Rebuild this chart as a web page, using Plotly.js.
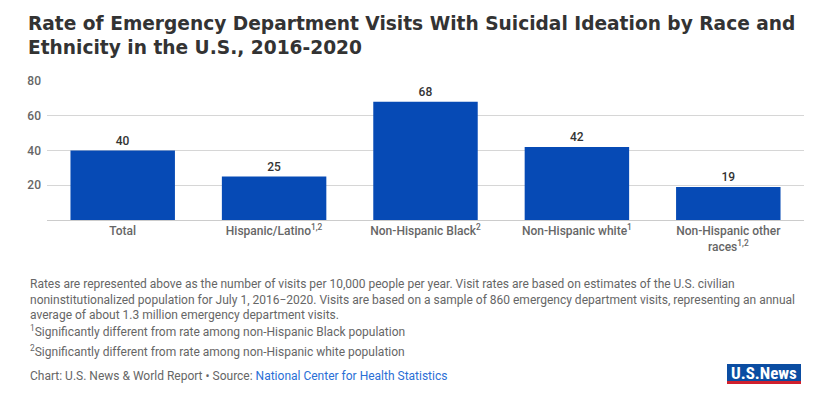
<!DOCTYPE html>
<html>
<head>
<meta charset="utf-8">
<script src="https://cdn.plot.ly/plotly-3.0.1.min.js"></script>
<style>html,body{margin:0;padding:0;background:#fff;}#chart{width:840px;height:397px;}</style>
</head>
<body>
<div id="chart"></div>
<script>
const categories = ["Total", "Hispanic/Latino<sup>1,2</sup>", "Non-Hispanic Black<sup>2</sup>", "Non-Hispanic white<sup>1</sup>", "Non-Hispanic other<br>races<sup>1,2</sup>"];
const rates = [40, 25, 68, 42, 19];
const yTicks = [20, 40, 60, 80];

const W = 840, H = 397;
const L = 47, R = 804, T = 81, B = 220;
const px = x => (x - L) / (R - L);
const py = y => (B - y) / (B - T);

const noteFont = {family: "Roboto, sans-serif", size: 12, color: "#666"};

const data = [{
  type: "bar",
  x: categories,
  y: rates,
  marker: {color: "#064ab5"},
  text: rates.map(String),
  textposition: "outside",
  textfont: {family: "Roboto, sans-serif", size: 12, color: "#333", weight: 500},
  cliponaxis: false,
  hoverinfo: "none"
}];

const ann = (x, y, text, extra) => Object.assign({
  xref: "paper", yref: "paper", x: px(x), y: py(y), text: text,
  showarrow: false, xanchor: "left", yanchor: "middle", align: "left", font: noteFont
}, extra || {});

const layout = {
  width: W, height: H,
  margin: {l: L, r: W - R, t: T, b: H - B, pad: 0},
  paper_bgcolor: "#fff", plot_bgcolor: "#fff",
  bargap: 0.31,
  showlegend: false,
  xaxis: {
    tickfont: {family: "Roboto, sans-serif", size: 12, color: "#666", weight: 500},
    showline: true, linecolor: "#ccc", linewidth: 1,
    ticks: "", showgrid: false, fixedrange: true
  },
  yaxis: {
    range: [0, 80], tickvals: yTicks,
    tickfont: {family: "Roboto, sans-serif", size: 12, color: "#666", weight: 500},
    gridcolor: "#d6d6d6", gridwidth: 1, zeroline: false,
    ticks: "", ticklabelstandoff: 5, fixedrange: true
  },
  annotations: [
    ann(26, 11, "Rate of Emergency Department Visits With Suicidal Ideation by Race and<br>Ethnicity in the U.S., 2016-2020",
      {yanchor: "top", font: {family: "'DejaVu Sans', sans-serif", size: 18.6, color: "#333", weight: 700}}),
    ann(28, 299, "Rates are represented above as the number of visits per 10,000 people per year. Visit rates are based on estimates of the U.S. civilian<br>noninstitutionalized population for July 1, 2016\u22122020. Visits are based on a sample of 860 emergency department visits, representing an annual<br>average of about 1.3 million emergency department visits."),
    ann(28, 331, "<sup>1</sup>Significantly different from rate among non-Hispanic Black population"),
    ann(28, 351, "<sup>2</sup>Significantly different from rate among non-Hispanic white population"),
    ann(28, 376, "Chart: U.S. News &amp; World Report \u2022 Source: <span style='color:#2a6fd6'>National Center for Health Statistics</span>"),
    ann(764, 373, "<b>U.S.News</b>", {xanchor: "center", font: {family: "'Roboto Condensed', Roboto, sans-serif", size: 17, color: "#fff"}})
  ],
  shapes: [
    {type: "rect", xref: "paper", yref: "paper", x0: px(727), x1: px(801), y0: py(381), y1: py(364), fillcolor: "#0b4da2", line: {width: 0}, layer: "below"},
    {type: "rect", xref: "paper", yref: "paper", x0: px(727), x1: px(801), y0: py(384), y1: py(381), fillcolor: "#d0202e", line: {width: 0}}
  ]
};

Plotly.newPlot("chart", data, layout, {displayModeBar: false, staticPlot: true});
</script>
</body>
</html>
